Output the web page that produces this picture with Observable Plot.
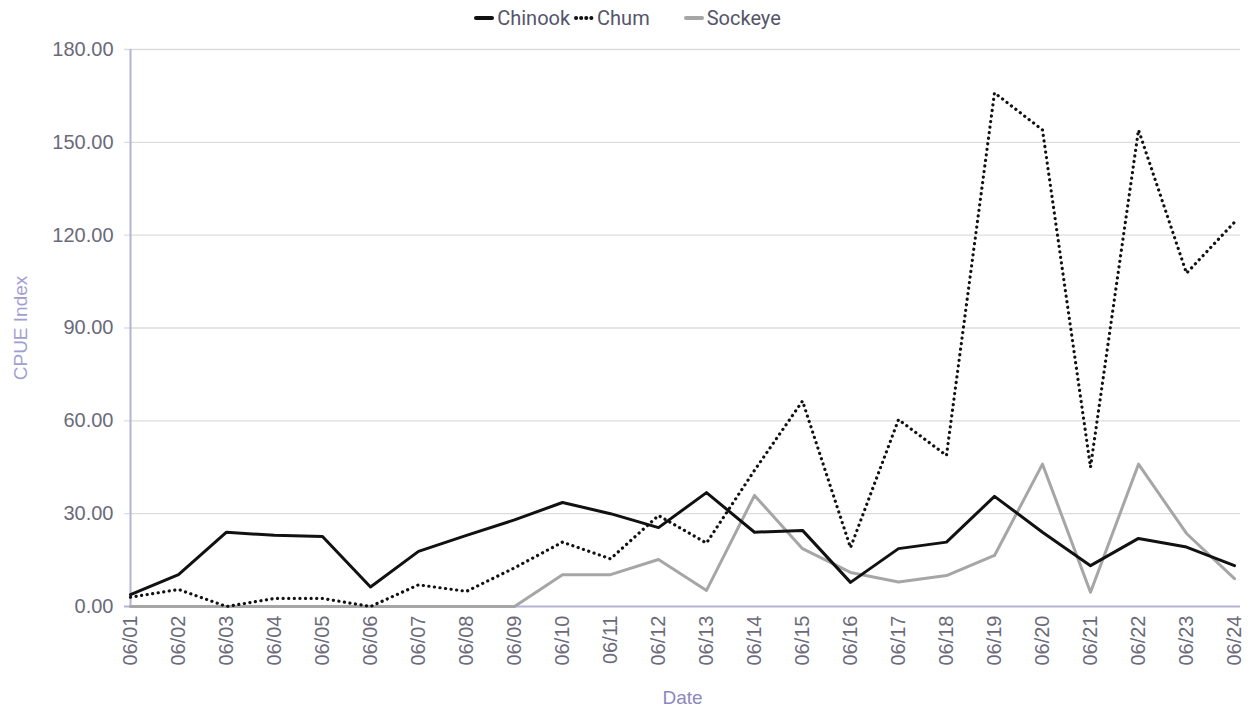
<!DOCTYPE html>
<html><head><meta charset="utf-8">
<script src="https://cdn.jsdelivr.net/npm/d3@7"></script>
<script src="https://cdn.jsdelivr.net/npm/@observablehq/plot@0.6"></script>
<style>
html,body{margin:0;background:#fff;overflow:hidden;font-family:Roboto,"Liberation Sans",sans-serif;}
#legend{height:36px;display:flex;justify-content:center;align-items:center;font-size:20px;color:#55556a;padding-left:10px;}
#legend span.item{display:inline-flex;align-items:center;margin-right:4px;}
#legend svg{margin-right:3px;}
#chart svg{display:block;}
</style></head>
<body>
<div id="legend"></div>
<div id="chart"></div>
<script>
const dates = ["06/01","06/02","06/03","06/04","06/05","06/06","06/07","06/08","06/09","06/10","06/11","06/12","06/13","06/14","06/15","06/16","06/17","06/18","06/19","06/20","06/21","06/22","06/23","06/24"];
const chinook = [3.8,10.3,24,23,22.6,6.3,17.8,23,28,33.6,30,25.5,36.8,24,24.6,7.8,18.7,20.8,35.6,24,13.2,22,19.2,13.2];
const chum = [3,5.5,0,2.6,2.6,0,7,4.9,12.5,20.8,15.4,29.4,20.5,44,66.4,19,60.4,48.8,166,154,45,154,107.7,124.2];
const sockeye = [0,0,0,0,0,0,0,0,0,10.3,10.3,15.2,5.2,35.9,18.7,11,7.9,10,16.5,46,4.6,46,23.6,9];
const yTicks = [0,30,60,90,120,150,180];
const seriesNames = ["Chinook","Chum","Sockeye"];

const toRows = vals => dates.map((d,i)=>({date:d,value:vals[i]}));
const lineColor = "#b3b3d6";
const tickFont = "'Liberation Sans', Arial, sans-serif";
const tickColor = "#6a6a7a";

const chart = Plot.plot({
  width:1249, height:679,
  marginLeft:124, marginRight:9, marginTop:13, marginBottom:109,
  style:{fontFamily:tickFont, fontSize:"20px", color:tickColor, background:"#fff"},
  x:{type:"point", domain:dates, padding:0, label:null},
  y:{domain:[0,180], label:null},
  marks:[
    Plot.gridY(yTicks.filter(t=>t>0),{stroke:"#dcdcdc", strokeOpacity:1, strokeWidth:1.3}),
    Plot.axisY({ticks:yTicks, tickFormat:d=>d.toFixed(2), tickSize:0, tickPadding:11, fontSize:20, fill:tickColor}),
    Plot.axisX({tickSize:0, tickPadding:9, tickRotate:-90, fontSize:20, fill:tickColor}),
    Plot.ruleY([0],{stroke:lineColor, strokeWidth:2}),
    Plot.ruleX([dates[0]],{stroke:lineColor, strokeWidth:2}),
    Plot.line(toRows(sockeye),{x:"date",y:"value",stroke:"#a6a6a6",strokeWidth:3}),
    Plot.line(toRows(chinook),{x:"date",y:"value",stroke:"#111",strokeWidth:3}),
    Plot.line(toRows(chum),{x:"date",y:"value",stroke:"#111",strokeWidth:3.2,strokeDasharray:"0.1 5.5",strokeLinecap:"round"}),
    Plot.text(["CPUE Index"],{frameAnchor:"left", textAnchor:"middle", dx:-104, rotate:-90, fill:"#a29ed2", fontSize:19}),
    Plot.text(["Date"],{frameAnchor:"bottom", dy:97, dx:0, fill:"#8c88c0", fontSize:19})
  ]
});
document.getElementById("chart").appendChild(chart);

// legend
const styles = {
  Chinook:{stroke:"#111",dash:null},
  Chum:{stroke:"#111",dash:"0.1 5"},
  Sockeye:{stroke:"#a6a6a6",dash:null}
};
const leg = document.getElementById("legend");
seriesNames.forEach((name,i)=>{
  const s = styles[name];
  const item = document.createElement("span");
  item.className="item";
  if(name==="Sockeye") item.style.marginLeft="30px";
  item.innerHTML = `<svg width="20" height="10"><line x1="2" x2="18" y1="5" y2="5" stroke="${s.stroke}" stroke-width="4" stroke-linecap="round" ${s.dash?`stroke-dasharray="${s.dash}"`:""}/></svg>${name}`;
  leg.appendChild(item);
});
</script>
</body></html>
